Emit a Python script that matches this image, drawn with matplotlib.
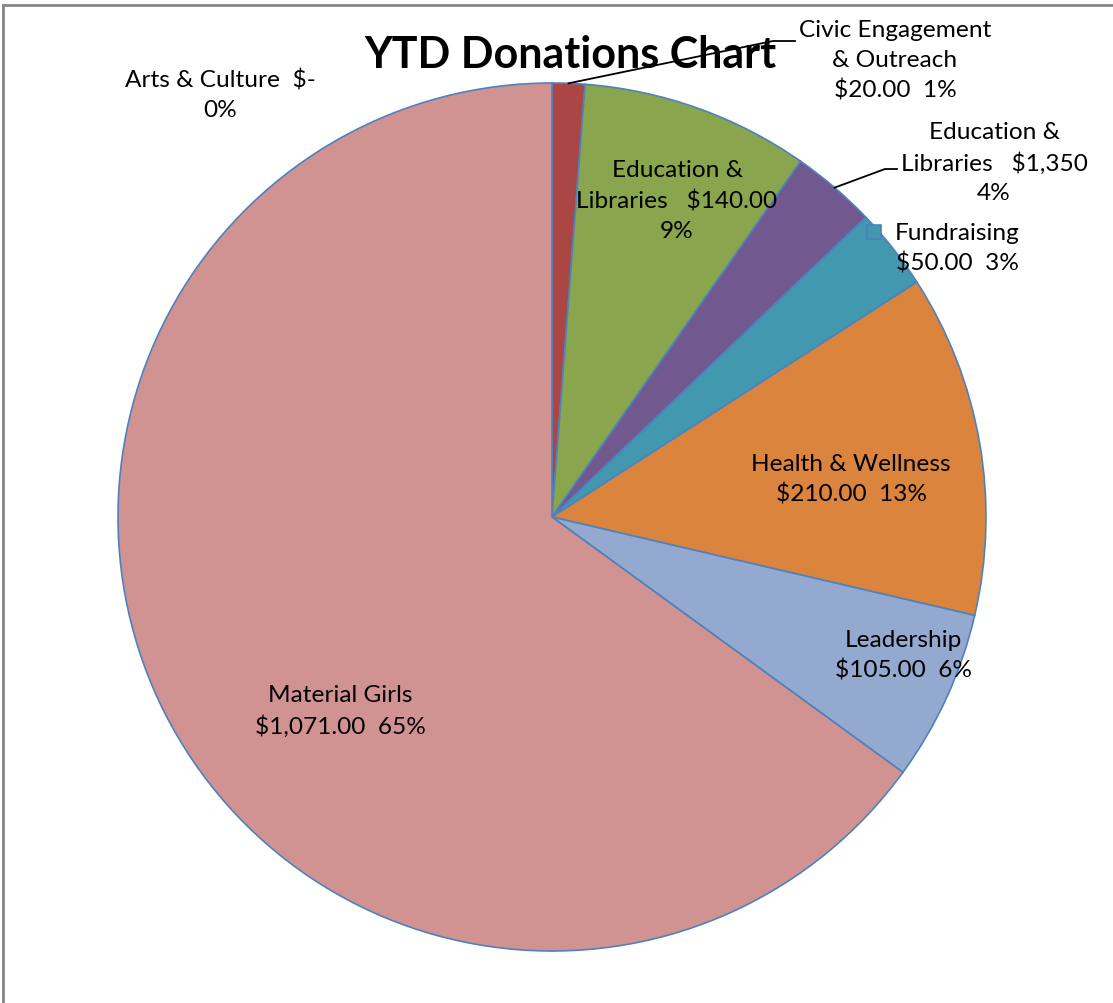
import matplotlib.pyplot as plt
import numpy as np

# data
categories = ["Arts & Culture", "Civic Engagement & Outreach", "Education & Libraries",
              "Education & Libraries", "Fundraising", "Health & Wellness",
              "Leadership", "Material Girls"]
amounts = [0, 20, 140, 52, 50, 210, 105, 1071]
label_texts = [
    "Arts & Culture  $-\n0%",
    "Civic Engagement\n& Outreach\n$20.00  1%",
    "Education &\nLibraries   $140.00\n9%",
    "Education &\nLibraries   $1,350\n4%",
    "Fundraising\n$50.00  3%",
    "Health & Wellness\n$210.00  13%",
    "Leadership\n$105.00  6%",
    "Material Girls\n$1,071.00  65%",
]
colors = ["#4572A7", "#AA4643", "#89A54E", "#71588F", "#4198AF",
          "#DB843D", "#93A9CF", "#D19392"]

W, H = 1113, 1004
CX, CY, R = 552, 518, 434

# label centres in pixel coordinates (top-left origin)
label_pos = [(220, 95), (895, 61), (677, 201), (994, 163), (895, 249),
             (851, 480), (903, 656), (340, 711)]
leaders = {1: [(773, 42), (795, 42)], 3: [(885, 170), (897, 170)]}

FONT = "Lato"
FS = 17.6
LS = 1.49


def py(y):
    return H - y


fig = plt.figure(figsize=(W / 100, H / 100), dpi=100)
ax = fig.add_axes([0, 0, 1, 1])

wedges, _ = ax.pie(amounts, colors=colors, startangle=90, counterclock=False,
                   center=(CX, py(CY)), radius=R,
                   wedgeprops=dict(edgecolor="#4F81BD", linewidth=1.2))
ax.set_xlim(0, W)
ax.set_ylim(0, H)
ax.set_aspect("equal")
ax.axis("off")

for i, txt in enumerate(label_texts):
    x, y = label_pos[i]
    if i == 4:
        # legend key shown next to this label
        ax.plot([874], [py(233)], marker="s", markersize=10,
                markerfacecolor=colors[4], markeredgecolor="#4F81BD",
                markeredgewidth=1.2, linestyle="none")
        ax.text(x, py(y), txt, ha="left", va="center", fontsize=FS,
                family=FONT, linespacing=LS, multialignment="center")
        continue
    ax.text(x, py(y), txt, ha="center", va="center", fontsize=FS,
            family=FONT, linespacing=LS, multialignment="center")
    if i in leaders:
        w = wedges[i]
        mid = np.deg2rad((w.theta1 + w.theta2) / 2)
        sx = CX + R * np.cos(mid)
        sy = py(CY) + R * np.sin(mid)
        pts = [(sx, sy)] + [(px, py(qy)) for px, qy in leaders[i]]
        ax.plot([p[0] for p in pts], [p[1] for p in pts], color="black",
                linewidth=1.3)

ax.text(570, py(55), "YTD Donations Chart", ha="center", va="center",
        fontsize=31, fontweight="bold", family=FONT)

# chart area border (only top and left visible)
ax.plot([3, W], [py(6), py(6)], color="#868686", linewidth=2, clip_on=False)
ax.plot([3, 3], [py(6), 0], color="#868686", linewidth=2, clip_on=False)

fig.savefig("out.png", dpi=100)
